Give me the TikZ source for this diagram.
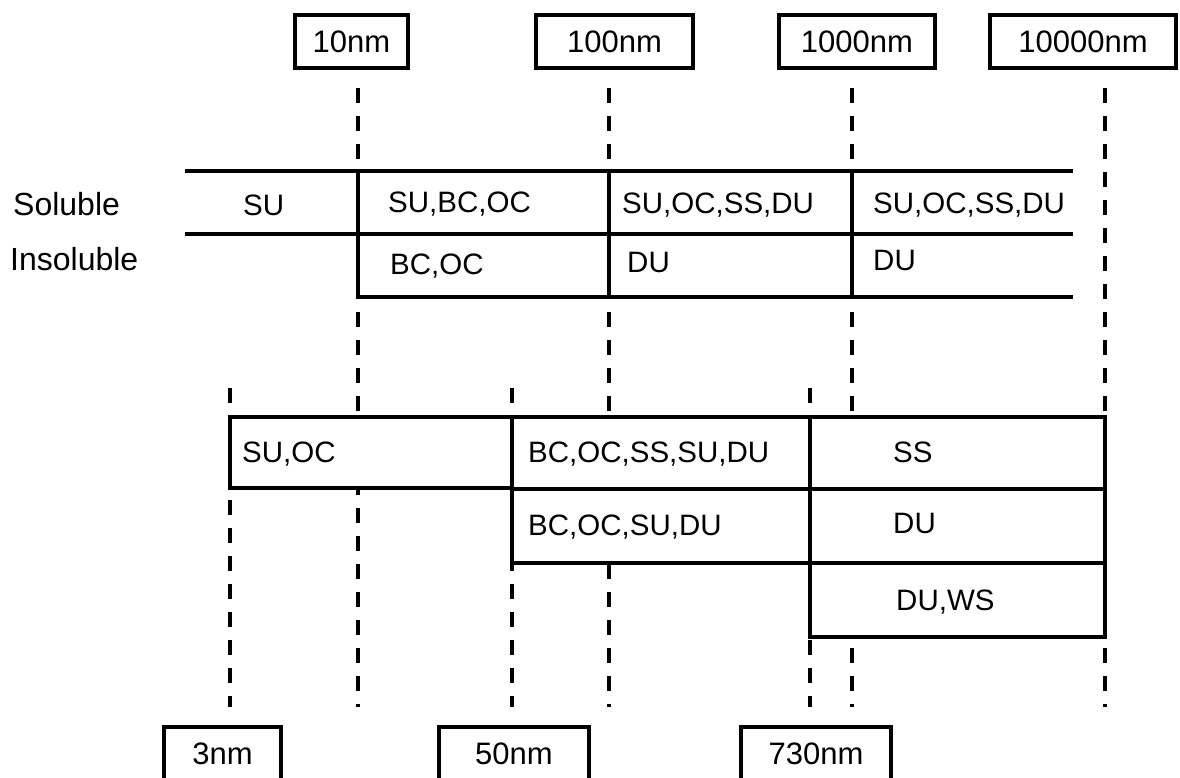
\documentclass[tikz,border=0pt]{standalone}
\usepackage{fontspec}
\setmainfont{Liberation Sans}
\begin{document}
\begin{tikzpicture}[x=1pt,y=-1pt,
  lbl/.style={draw,line width=3.5pt,inner sep=0pt,font=\fontsize{31}{36}\selectfont},
  cell/.style={anchor=base west,inner sep=0pt,font=\fontsize{29.5}{34}\selectfont},
  side/.style={anchor=base west,inner sep=0pt,font=\fontsize{32}{38}\selectfont},
  guide/.style={line width=3.5pt,dash pattern=on 15pt off 13pt},
  rule/.style={line width=3.5pt}]
\clip (0,0) rectangle (1180,778);
\fill[white] (0,0) rectangle (1180,778);

% scale boxes
\node[lbl,minimum width=113pt,minimum height=53pt] (n10) at (351.5,41.5) {10nm};
\node[lbl,minimum width=157pt,minimum height=53pt] (n100) at (614.5,41.5) {100nm};
\node[lbl,minimum width=156pt,minimum height=53pt] (n1000) at (857,41.5) {1000nm};
\node[lbl,minimum width=186pt,minimum height=53pt] (n10000) at (1083,41.5) {10000nm};
\node[lbl,minimum width=117pt,minimum height=53pt] (n3) at (222.5,753.5) {3nm};
\node[lbl,minimum width=150pt,minimum height=53pt] (n50) at (514,753.5) {50nm};
\node[lbl,minimum width=150pt,minimum height=53pt] (n730) at (816,753.5) {730nm};

% dashed guides
\coordinate (g10a) at (358,88);   \coordinate (g10b) at (358,707);
\coordinate (g100a) at (609,88);  \coordinate (g100b) at (609,707);
\coordinate (g1000a) at (852,88); \coordinate (g1000b) at (852,707);
\coordinate (g10000a) at (1105,88); \coordinate (g10000b) at (1105,707);
\coordinate (g3a) at (230,388);   \coordinate (g3b) at (230,707);
\coordinate (g50a) at (512,388);  \coordinate (g50b) at (512,707);
\coordinate (g730a) at (810,388); \coordinate (g730b) at (810,707);
\foreach \g in {10,100,1000,10000,3,50,730}
  \draw[guide] (g\g a) -- (g\g b);

% upper table
\draw[rule] (185,171) -- (1073,171);
\draw[rule] (185,234) -- (1073,234);
\draw[rule] (358,297) -- (1073,297);
\draw[rule] (358,171) -- (358,297);
\draw[rule] (609,171) -- (609,297);
\draw[rule] (852,171) -- (852,297);

\node[side] (sol) at (13,215) {Soluble};
\node[side] (insol) at (10,270) {Insoluble};
\node[cell] (t1) at (243,215) {SU};
\node[cell] (t2) at (388,212) {SU,BC,OC};
\node[cell] (t3) at (622,213) {SU,OC,SS,DU};
\node[cell] (t4) at (873,213) {SU,OC,SS,DU};
\node[cell] (t5) at (390,274) {BC,OC};
\node[cell] (t6) at (627,272) {DU};
\node[cell] (t7) at (873,270) {DU};

% lower table
\draw[rule,fill=white] (230,417) rectangle (512,488);
\draw[rule,fill=white] (512,417) rectangle (810,563);
\draw[rule] (512,489) -- (810,489);
\draw[rule,fill=white] (810,417) rectangle (1105,637);
\draw[rule] (810,489) -- (1105,489);
\draw[rule] (810,563) -- (1105,563);

\node[cell] (b1) at (242,462) {SU,OC};
\node[cell] (b2) at (528,462) {BC,OC,SS,SU,DU};
\node[cell] (b3) at (528,535) {BC,OC,SU,DU};
\node[cell] (b4) at (893,462) {SS};
\node[cell] (b5) at (893,533) {DU};
\node[cell] (b6) at (896,610) {DU,WS};
\end{tikzpicture}
\end{document}
